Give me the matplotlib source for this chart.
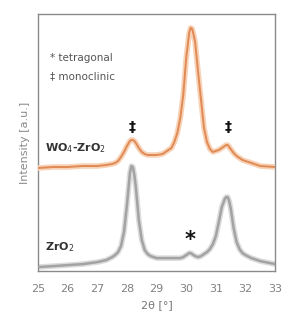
import matplotlib
matplotlib.use("Agg")
import matplotlib.pyplot as plt

# 2theta positions and intensities (a.u.)
two_theta = [25.0, 25.5, 26.0, 26.5, 27.0, 27.3, 27.5, 27.6, 27.7, 27.8, 27.9, 28.0, 28.1, 28.15, 28.2,
             28.25, 28.3, 28.4, 28.5, 28.6, 28.7, 28.8, 29.0, 29.2, 29.3, 29.4, 29.5, 29.6, 29.7, 29.8,
             29.9, 30.0, 30.1, 30.15, 30.2, 30.25, 30.3, 30.4, 30.5, 30.6, 30.7, 30.8, 30.9, 31.0, 31.1, 31.2,
             31.3, 31.35, 31.4, 31.45, 31.5, 31.6, 31.7, 31.8, 31.9, 32.0, 32.2, 32.5, 33.0]

wo4_zro2 = [103, 104, 104, 105, 105, 106, 107, 108, 110, 114, 119, 125, 130, 131, 131,
            130, 128, 123, 119, 117, 116, 116, 116, 117, 119, 121, 123, 129, 138, 153,
            176, 213, 238, 243, 242, 236, 229, 199, 171, 143, 129, 122, 119, 120, 121, 123,
            125, 126, 126, 124, 122, 118, 115, 113, 111, 110, 108, 105, 104]

zro2 = [4, 5, 6, 7, 9, 11, 14, 16, 19, 25, 39, 66, 98, 105, 104,
        96, 84, 51, 31, 21, 17, 15, 13, 13, 13, 13, 13, 13, 13, 13,
        14, 16, 18, 18, 17, 16, 15, 14, 15, 17, 19, 22, 27, 35, 49, 64,
        72, 74, 74, 70, 63, 43, 29, 22, 18, 16, 13, 10, 7]

x_ticks = [25, 26, 27, 28, 29, 30, 31, 32, 33]

fig = plt.figure(figsize=(2.86, 3.22), dpi=100)
ax = fig.add_axes([0.133, 0.158, 0.829, 0.799])

# glow + line
ax.plot(two_theta, zro2, color="#dcdcdc", lw=4.0, solid_capstyle="round", zorder=2)
ax.plot(two_theta, zro2, color="#a3a3a3", lw=1.8, zorder=3)
ax.plot(two_theta, wo4_zro2, color="#f7d2b6", lw=4.0, solid_capstyle="round", zorder=4)
ax.plot(two_theta, wo4_zro2, color="#e08a55", lw=1.4, zorder=5)

ax.set_xlim(25, 33)
ax.set_ylim(0, 257)
ax.set_xticks(x_ticks)
ax.set_xticklabels([str(t) for t in x_ticks])
ax.set_yticks([])
ax.tick_params(axis="x", length=0, pad=9, labelsize=8, labelcolor="#808080")
for s in ax.spines.values():
    s.set_color("#8a8a8a")
    s.set_linewidth(1.0)

ax.set_xlabel("2θ [°]", fontsize=8, color="#777777", labelpad=5)
ax.set_ylabel("Intensity [a.u.]", fontsize=8, color="#888888", labelpad=6)

ax.text(25.4, 213, "* tetragonal", fontsize=7.5, color="#555555", va="center", ha="left")
ax.text(25.4, 195, "‡ monoclinic", fontsize=7.5, color="#555555", va="center", ha="left")
ax.text(25.25, 123, "WO$_4$-ZrO$_2$", fontsize=8, fontweight="bold", color="#333333",
        va="center", ha="left")
ax.text(25.25, 24, "ZrO$_2$", fontsize=8, fontweight="bold", color="#333333",
        va="center", ha="left")
ax.text(28.17, 144, "‡", fontsize=10, fontweight="bold", color="#111111", ha="center", va="center")
ax.text(31.42, 144, "‡", fontsize=10, fontweight="bold", color="#111111", ha="center", va="center")
ax.text(30.12, 31, "*", fontsize=15, fontweight="bold", color="#111111", ha="center", va="center")

fig.savefig("out.png", dpi=100)
